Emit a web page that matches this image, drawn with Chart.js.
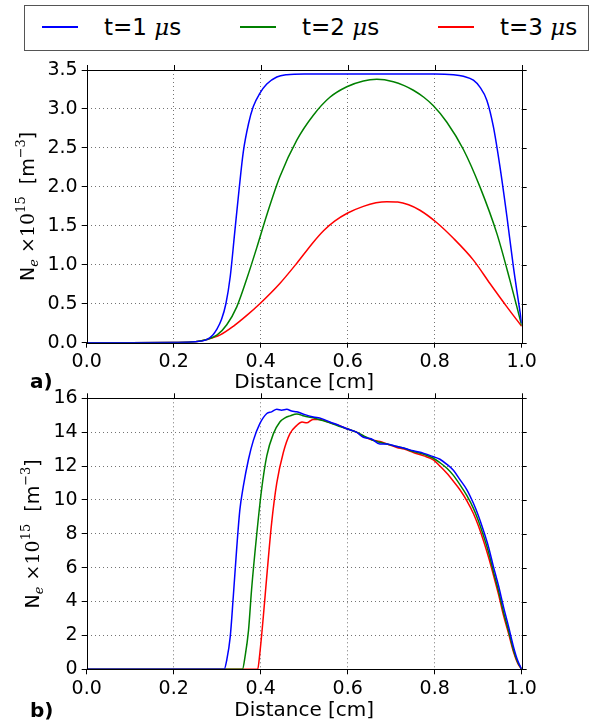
<!DOCTYPE html>
<html>
<head>
<meta charset="utf-8">
<script src="https://cdn.jsdelivr.net/npm/chart.js@4.4.1/dist/chart.umd.min.js"></script>
<style>
  body { margin: 0; background: #fff; }
  #wrap { position: relative; width: 600px; height: 721px; font-family: 'DejaVu Sans', sans-serif; }
  #chartA { position: absolute; left: 0; top: 0; }
  #chartB { position: absolute; left: 0; top: 360px; }
  #legend { position: absolute; left: 24px; top: 5px; width: 565px; height: 46px; border: 1px solid #555; box-sizing: border-box; background: #fff; z-index: 2; }
  #legend .swatch { position: absolute; top: 20px; width: 36px; height: 1.5px; }
  #legend .name { position: absolute; top: 6px; font-size: 23px; line-height: 30px; white-space: nowrap; color: #000; }
  #legend .name i { font-family: 'DejaVu Serif', serif; }
</style>
</head>
<body>
<div id="wrap">
  <div id="legend"></div>
  <canvas id="chartA" width="600" height="400"></canvas>
  <canvas id="chartB" width="600" height="361"></canvas>
</div>
<script>
/*
  data
*/
var seriesNames = ['t=1 μs', 't=2 μs', 't=3 μs'];
var seriesColors = ['#0000ff', '#008000', '#ff0000'];

var xTicks = [0, 0.2, 0.4, 0.6, 0.8, 1.0];
var aTicks = [0, 0.5, 1.0, 1.5, 2.0, 2.5, 3.0, 3.5];
var bTicks = [0, 2, 4, 6, 8, 10, 12, 14, 16];

// panel a)
var aX1 = [0, 0.1, 0.2, 0.25, 0.276, 0.29, 0.299, 0.31, 0.32, 0.33, 0.34, 0.35, 0.36, 0.372, 0.383, 0.398, 0.414, 0.437, 0.46, 0.5, 0.6, 0.7, 0.8, 0.843, 0.866, 0.889, 0.904, 0.92, 0.935, 0.95, 0.966, 0.981, 0.992, 1.0];
var aY1 = [0, 0, 0.003, 0.012, 0.04, 0.1, 0.17, 0.3, 0.5, 0.85, 1.4, 1.95, 2.45, 2.81, 3.03, 3.2, 3.32, 3.41, 3.44, 3.45, 3.45, 3.45, 3.45, 3.44, 3.42, 3.37, 3.28, 3.11, 2.77, 2.26, 1.62, 0.97, 0.55, 0.25];

var aX2 = [0, 0.1, 0.2, 0.25, 0.276, 0.3, 0.322, 0.345, 0.368, 0.391, 0.414, 0.444, 0.483, 0.521, 0.559, 0.598, 0.636, 0.667, 0.705, 0.73, 0.751, 0.775, 0.797, 0.828, 0.866, 0.904, 0.943, 0.973, 1.0];
var aY2 = [0, 0, 0.003, 0.012, 0.04, 0.1, 0.23, 0.46, 0.82, 1.22, 1.64, 2.13, 2.6, 2.92, 3.15, 3.285, 3.36, 3.38, 3.35, 3.3, 3.24, 3.15, 3.04, 2.83, 2.48, 2.0, 1.4, 0.8, 0.22];

var aX3 = [0, 0.1, 0.2, 0.25, 0.276, 0.307, 0.337, 0.368, 0.398, 0.444, 0.483, 0.521, 0.545, 0.57, 0.6, 0.636, 0.665, 0.69, 0.715, 0.74, 0.766, 0.805, 0.843, 0.889, 0.927, 0.966, 1.0];
var aY3 = [0, 0, 0.003, 0.012, 0.04, 0.1, 0.21, 0.35, 0.5, 0.76, 1.02, 1.29, 1.44, 1.56, 1.665, 1.75, 1.795, 1.81, 1.805, 1.77, 1.7, 1.54, 1.34, 1.06, 0.76, 0.46, 0.21];

// panel b)
var bX1 = [0, 0.316, 0.322, 0.33, 0.337, 0.345, 0.352, 0.36, 0.372, 0.383, 0.398, 0.414, 0.425, 0.437, 0.448, 0.46, 0.471, 0.483, 0.5, 0.521, 0.54, 0.559, 0.58, 0.598, 0.62, 0.636, 0.655, 0.674, 0.69, 0.713, 0.73, 0.751, 0.775, 0.797, 0.812, 0.828, 0.843, 0.858, 0.874, 0.889, 0.9, 0.912, 0.924, 0.935, 0.947, 0.958, 0.97, 0.981, 0.991, 1.0];
var bY1 = [0, 0, 0.55, 1.93, 4.3, 7.2, 9.4, 10.8, 12.4, 13.5, 14.5, 15.1, 15.2, 15.35, 15.3, 15.35, 15.25, 15.2, 15.05, 14.9, 14.8, 14.6, 14.4, 14.2, 14.0, 13.7, 13.6, 13.3, 13.3, 13.15, 13.05, 12.9, 12.75, 12.55, 12.4, 12.1, 11.75, 11.2, 10.6, 9.8, 9.1, 8.2, 7.2, 6.06, 4.9, 3.7, 2.5, 1.34, 0.5, 0];

var bX2 = [0, 0.358, 0.364, 0.372, 0.379, 0.391, 0.402, 0.414, 0.429, 0.444, 0.456, 0.467, 0.483, 0.5, 0.521, 0.54, 0.559, 0.58, 0.598, 0.62, 0.636, 0.655, 0.674, 0.69, 0.713, 0.73, 0.751, 0.775, 0.797, 0.812, 0.828, 0.843, 0.858, 0.874, 0.889, 0.9, 0.912, 0.924, 0.935, 0.947, 0.958, 0.97, 0.981, 0.991, 1.0];
var bY2 = [0, 0, 0.75, 2.3, 4.7, 8.0, 10.6, 12.6, 13.9, 14.6, 14.85, 14.96, 15.08, 14.95, 14.85, 14.7, 14.55, 14.35, 14.2, 14.0, 13.8, 13.55, 13.4, 13.3, 13.15, 13.05, 12.85, 12.7, 12.46, 12.2, 11.87, 11.45, 10.9, 10.25, 9.5, 8.8, 7.9, 6.9, 5.77, 4.6, 3.4, 2.25, 1.14, 0.4, 0];

var bX3 = [0, 0.393, 0.398, 0.406, 0.414, 0.425, 0.437, 0.452, 0.467, 0.483, 0.495, 0.506, 0.52, 0.536, 0.55, 0.567, 0.58, 0.598, 0.62, 0.636, 0.655, 0.674, 0.69, 0.713, 0.73, 0.751, 0.775, 0.797, 0.812, 0.828, 0.843, 0.858, 0.874, 0.889, 0.9, 0.912, 0.924, 0.935, 0.947, 0.958, 0.97, 0.981, 0.991, 1.0];
var bY3 = [0, 0, 0.94, 3.1, 5.5, 8.6, 11.0, 12.8, 13.9, 14.4, 14.6, 14.55, 14.75, 14.75, 14.65, 14.5, 14.4, 14.2, 14.0, 13.75, 13.55, 13.45, 13.3, 13.1, 13.0, 12.8, 12.6, 12.36, 12.0, 11.57, 11.1, 10.6, 9.95, 9.2, 8.5, 7.6, 6.6, 5.57, 4.4, 3.2, 2.1, 1.04, 0.35, 0];

Chart.defaults.font.family = "'DejaVu Sans', sans-serif";
Chart.defaults.color = '#000';

var toPoints = (xs, ys) => xs.map((x, i) => ({x: x, y: ys[i]}));

var makeSets = (pairs) => pairs.map((p, i) => ({
  label: seriesNames[i],
  data: toPoints(p[0], p[1]),
  borderColor: seriesColors[i],
  borderWidth: 1.5,
  pointRadius: 0,
  fill: false,
  cubicInterpolationMode: 'monotone'
}));

// legend (html, one box for both panels)
var legend = document.getElementById('legend');
seriesNames.forEach((name, i) => {
  var sw = document.createElement('div');
  sw.className = 'swatch';
  sw.style.left = (17 + 198 * i) + 'px';
  sw.style.background = seriesColors[i];
  legend.appendChild(sw);
  var tx = document.createElement('span');
  tx.className = 'name';
  tx.style.left = (79 + 198 * i) + 'px';
  var bits = name.split('μ');
  tx.innerHTML = bits[0] + '<i>μ</i>' + bits[1];
  legend.appendChild(tx);
});

// frame, ticks on top/right, y label with sub/superscripts, panel letter
var framePlugin = {
  id: 'frame',
  afterDraw(chart, args, opts) {
    var ctx = chart.ctx;
    var a = chart.chartArea;
    var xs = chart.scales.x, ys = chart.scales.y;
    ctx.save();
    ctx.strokeStyle = '#000';
    ctx.lineWidth = 1;
    ctx.strokeRect(Math.round(a.left) + 0.5, Math.round(a.top) + 0.5, Math.round(a.right - a.left), Math.round(a.bottom - a.top));
    ctx.beginPath();
    xs.ticks.forEach(t => {
      var px = Math.round(xs.getPixelForValue(t.value)) + 0.5;
      ctx.moveTo(px, a.top);
      ctx.lineTo(px, a.top - 5);
    });
    ys.ticks.forEach(t => {
      var py = Math.round(ys.getPixelForValue(t.value)) + 0.5;
      ctx.moveTo(a.right, py);
      ctx.lineTo(a.right + 5, py);
    });
    ctx.stroke();

    // y label: N_e x10^15 [m^-3]
    var size = 19;
    var small = Math.round(size * 0.7);
    var parts = [
      {t: 'N', f: size + "px 'DejaVu Sans'", dy: 0},
      {t: 'e', f: 'italic ' + small + "px 'DejaVu Serif'", dy: size * 0.22},
      {t: ' ×10', f: size + "px 'DejaVu Serif'", dy: 0},
      {t: '15', f: small + "px 'DejaVu Serif'", dy: -size * 0.45},
      {t: '  [m', f: size + "px 'DejaVu Sans'", dy: 0},
      {t: '−3', f: small + "px 'DejaVu Serif'", dy: -size * 0.45},
      {t: ']', f: size + "px 'DejaVu Sans'", dy: 0}
    ];
    var total = 0;
    parts.forEach(p => { ctx.font = p.f; p.w = ctx.measureText(p.t).width; total += p.w; });
    ctx.translate(opts.labelX, (a.top + a.bottom) / 2);
    ctx.rotate(-Math.PI / 2);
    ctx.fillStyle = '#000';
    ctx.textBaseline = 'alphabetic';
    var u = -total / 2;
    parts.forEach(p => { ctx.font = p.f; ctx.fillText(p.t, u, p.dy); u += p.w; });
    ctx.restore();

    ctx.save();
    ctx.font = "bold 20px 'DejaVu Sans'";
    ctx.fillStyle = '#000';
    ctx.fillText(opts.letter, 30, opts.letterY);
    ctx.restore();
  }
};

var makeOptions = (yMin, yMax, yStep, yDigits, top, axisH, titlePad, labelX, letter, letterY) => ({
  responsive: false,
  animation: false,
  layout: {padding: {left: 0, top: top, right: 78.3, bottom: 0}},
  plugins: {
    legend: {display: false},
    tooltip: {enabled: false},
    frame: {labelX: labelX, letter: letter, letterY: letterY}
  },
  scales: {
    x: {
      type: 'linear',
      min: 0, max: 1,
      afterFit: s => { s.height = axisH; },
      afterBuildTicks: s => { s.ticks = xTicks.map(v => ({value: v})); },
      ticks: {font: {size: 19}, padding: 3, callback: v => v.toFixed(1), maxRotation: 0},
      grid: {
        color: c => (c.tick && (c.tick.value === 0 || c.tick.value === 1)) ? 'rgba(0,0,0,0)' : 'rgba(0,0,0,0.55)',
        tickColor: '#000',
        tickLength: 5,
        lineWidth: 1
      },
      border: {display: false, dash: [1, 3]},
      title: {display: true, text: 'Distance [cm]', font: {size: 20}, padding: {top: 0, bottom: titlePad}}
    },
    y: {
      min: yMin, max: yMax,
      afterFit: s => { s.width = 86.7; },
      afterBuildTicks: s => { s.ticks = s.ticks.filter(t => t.value % yStep < 1e-9 || yStep - (t.value % yStep) < 1e-9); },
      ticks: {font: {size: 19}, padding: 4, stepSize: yStep, callback: v => v.toFixed(yDigits)},
      grid: {
        color: c => (c.tick && (c.tick.value === yMin || c.tick.value === yMax)) ? 'rgba(0,0,0,0)' : 'rgba(0,0,0,0.55)',
        tickColor: '#000',
        tickLength: 5,
        lineWidth: 1
      },
      border: {display: false, dash: [1, 3]}
    }
  }
});

var chartA = new Chart(document.getElementById('chartA'), {
  type: 'line',
  data: {datasets: makeSets([[aX1, aY1], [aX2, aY2], [aX3, aY3]])},
  options: makeOptions(aTicks[0], aTicks[aTicks.length - 1], 0.5, 1, 70, 57.3, 5, 34, 'a)', 388),
  plugins: [framePlugin]
});

var chartB = new Chart(document.getElementById('chartB'), {
  type: 'line',
  data: {datasets: makeSets([[bX1, bY1], [bX2, bY2], [bX3, bY3]])},
  options: makeOptions(bTicks[0], bTicks[bTicks.length - 1], 2, 0, 38.3, 51.7, -2, 39, 'b)', 357),
  plugins: [framePlugin]
});
</script>
</body>
</html>
